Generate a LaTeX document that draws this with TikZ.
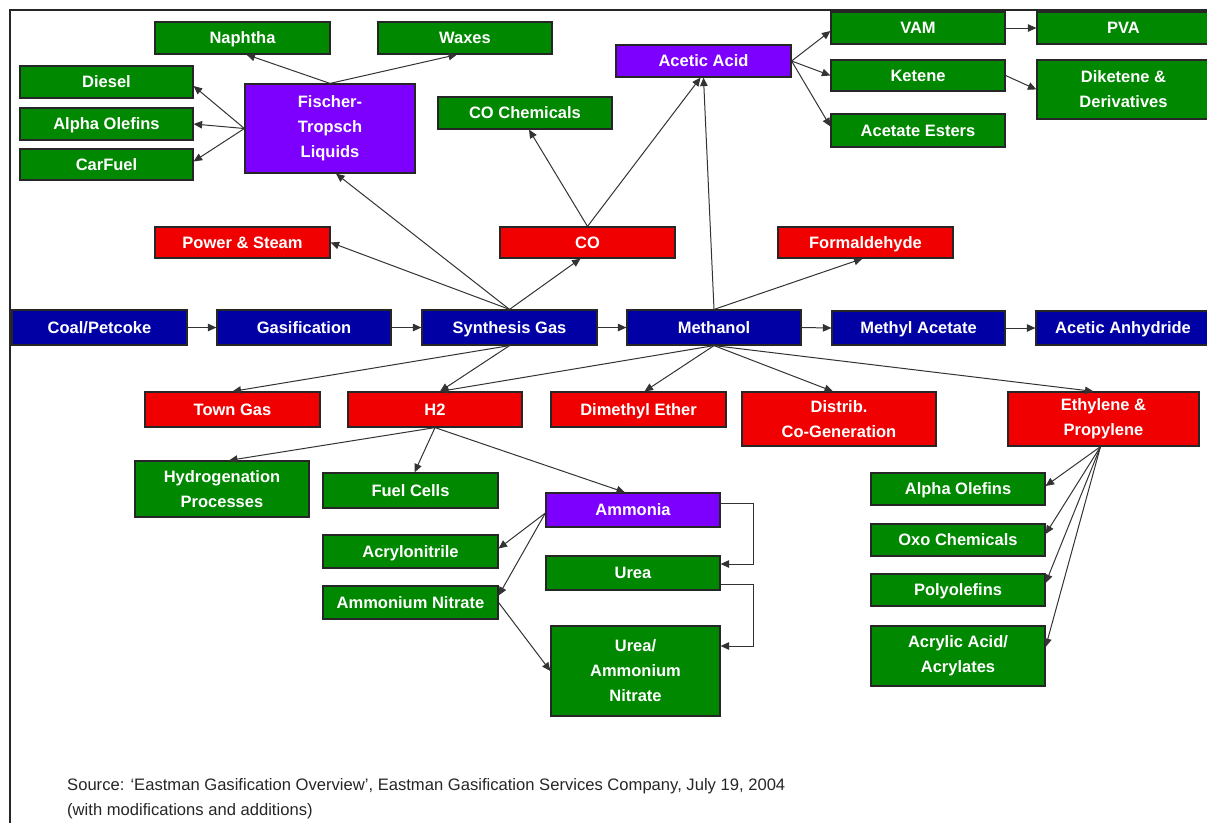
\documentclass[tikz,border=0pt]{standalone}
\usepackage{fontspec}
\setmainfont{Liberation Sans}
\usetikzlibrary{arrows.meta,calc}
\definecolor{cGreen}{RGB}{0,136,0}
\definecolor{cRed}{RGB}{240,0,0}
\definecolor{cBlue}{RGB}{0,0,165}
\definecolor{cPurple}{RGB}{125,0,255}
\tikzset{
  bx/.style={draw=black!85, line width=1.2pt, inner sep=0pt, text=white,
    font=\bfseries\fontsize{16.5}{25}\selectfont, align=center},
  oneline/.style={text height=12pt, text depth=0.3pt},
  gb/.style={bx, fill=cGreen},
  rb/.style={bx, fill=cRed},
  bb/.style={bx, fill=cBlue},
  pb/.style={bx, fill=cPurple},
  arr/.style={draw=black!80, line width=1pt, -{Triangle[length=8.5pt,width=7.5pt]}},
  frameline/.style={draw=black!85, line width=1.6pt},
  srctext/.style={anchor=north west, align=left, text=black!85,
    font=\fontsize{16.6}{25}\selectfont, inner sep=0pt}
}
% box from corner (x1,y1) to (x2,y2)
\newcommand\mybox[7]{%
  \pgfmathsetmacro\bxw{#5-#3}\pgfmathsetmacro\bxh{#6-#4}%
  \pgfmathsetmacro\bxcx{(#3+#5)/2}\pgfmathsetmacro\bxcy{(#4+#6)/2}%
  \node[#1, minimum width=\bxw pt, minimum height=\bxh pt] (#2) at (\bxcx,\bxcy) {#7};}
\begin{document}
\begin{tikzpicture}[x=1pt,y=-1pt]
\useasboundingbox (0,0) rectangle (1207,823);
\draw[frameline] (1207,10) -- (10,10) -- (10,823);
% top left
\mybox{gb,oneline}{naph}{155}{22}{330}{54}{Naphtha}
\mybox{gb,oneline}{wax}{378}{22}{552}{54}{Waxes}
\mybox{gb,oneline}{dies}{20}{66}{193}{98}{Diesel}
\mybox{gb,oneline}{ao1}{20}{108}{193}{140}{Alpha Olefins}
\mybox{gb,oneline}{car}{20}{149}{193}{180}{CarFuel}
\mybox{pb}{ft}{245}{84}{415}{173}{Fischer-\\Tropsch\\Liquids}
% top middle / right
\mybox{pb,oneline}{aa}{616}{45}{791}{77}{Acetic Acid}
\mybox{gb,oneline}{coc}{438}{97}{612}{129}{CO Chemicals}
\mybox{gb,oneline}{vam}{831}{12}{1005}{44}{VAM}
\mybox{gb,oneline}{pva}{1037}{12}{1210}{44}{PVA}
\mybox{gb,oneline}{ket}{831}{60}{1005}{91}{Ketene}
\mybox{gb}{dik}{1037}{60}{1210}{119}{Diketene \&\\Derivatives}
\mybox{gb,oneline}{ae}{831}{114}{1005}{147}{Acetate Esters}
% red row
\mybox{rb,oneline}{ps}{155}{227}{330}{258}{Power \& Steam}
\mybox{rb,oneline}{co}{500}{227}{675}{258}{CO}
\mybox{rb,oneline}{form}{778}{227}{953}{258}{Formaldehyde}
% blue chain
\mybox{bb,oneline}{coal}{12}{310}{187}{345}{Coal/Petcoke}
\mybox{bb,oneline}{gas}{217}{310}{391}{345}{Gasification}
\mybox{bb,oneline}{syn}{422}{310}{597}{345}{Synthesis Gas}
\mybox{bb,oneline}{meth}{627}{310}{801}{345}{Methanol}
\mybox{bb,oneline}{mac}{832}{311}{1005}{345}{Methyl Acetate}
\mybox{bb,oneline}{aan}{1036}{311}{1210}{345}{Acetic Anhydride}
% lower red row
\mybox{rb,oneline}{town}{145}{392}{320}{427}{Town Gas}
\mybox{rb,oneline}{h2}{348}{392}{522}{427}{H2}
\mybox{rb,oneline}{dme}{551}{392}{726}{427}{Dimethyl Ether}
\mybox{rb}{dist}{742}{392}{936}{446}{Distrib.\\Co-Generation}
\mybox{rb}{eth}{1008}{392}{1199}{446}{Ethylene \&\\Propylene}
% bottom
\mybox{gb}{hyd}{135}{461}{309}{517}{Hydrogenation\\Processes}
\mybox{gb,oneline}{fc}{323}{473}{498}{508}{Fuel Cells}
\mybox{pb,oneline}{amm}{546}{493}{720}{527}{Ammonia}
\mybox{gb,oneline}{acn}{323}{535}{498}{568}{Acrylonitrile}
\mybox{gb,oneline}{urea}{546}{556}{720}{590}{Urea}
\mybox{gb,oneline}{an}{323}{586}{498}{619}{Ammonium Nitrate}
\mybox{gb}{uan}{551}{626}{720}{716}{Urea/\\Ammonium\\Nitrate}
\mybox{gb,oneline}{ao2}{871}{473}{1045}{505}{Alpha Olefins}
\mybox{gb,oneline}{oxo}{871}{524}{1045}{556}{Oxo Chemicals}
\mybox{gb,oneline}{poly}{871}{574}{1045}{606}{Polyolefins}
\mybox{gb}{acr}{871}{626}{1045}{686}{Acrylic Acid/\\Acrylates}
% source
\node[srctext] (src) at (67,778) {Source: ‘Eastman Gasification Overview’, Eastman Gasification Services Company, July 19, 2004\\(with modifications and additions)};
% connectors: FT
\draw[arr] (ft.west) -- ($(dies.east)+(0,4)$);
\draw[arr] (ft.west) -- (ao1.east);
\draw[arr] (ft.west) -- ($(car.east)+(0,-3)$);
\draw[arr] (ft.north) -- ($(naph.south)+(4,0)$);
\draw[arr] (ft.north) -- ($(wax.south)+(-8,0)$);
% synthesis gas
\draw[arr] (syn.north) -- ($(ft.south)+(6,0)$);
\draw[arr] (syn.north) -- (ps.east);
\draw[arr] (syn.north) -- ($(co.south)+(-7,0)$);
\draw[arr] (syn.south) -- (town.north);
\draw[arr] (syn.south) -- ($(h2.north)+(5,0)$);
% CO
\draw[arr] (co.north) -- ($(coc.south)+(4,0)$);
\draw[arr] (co.north) -- ($(aa.south)+(-3,0)$);
% methanol
\draw[arr] (meth.north) -- (aa.south);
\draw[arr] (meth.north) -- ($(form.south)+(-3,0)$);
\draw[arr] (meth.south) -- ($(h2.north)+(5,0)$);
\draw[arr] (meth.south) -- ($(dme.north)+(6,0)$);
\draw[arr] (meth.south) -- ($(dist.north)+(-6,0)$);
\draw[arr] (meth.south) -- ($(eth.north)+(-10,0)$);
% acetic acid
\draw[arr] (aa.east) -- ($(vam.west)+(0,3)$);
\draw[arr] (aa.east) -- (ket.west);
\draw[arr] (aa.east) -- ($(ae.west)+(0,-4)$);
\draw[arr] (vam.east) -- (pva.west |- vam.east);
\draw[arr] (ket.east) -- (dik.west);
% chain
\draw[arr] (coal.east) -- (gas.west);
\draw[arr] (gas.east) -- (syn.west);
\draw[arr] (syn.east) -- (meth.west);
\draw[arr] (meth.east) -- (mac.west);
\draw[arr] (mac.east) -- (aan.west);
% ethylene
\draw[arr] ($(eth.south)+(-3,0)$) -- ($(ao2.east)+(0,-3)$);
\draw[arr] ($(eth.south)+(-3,0)$) -- ($(oxo.east)+(0,-6)$);
\draw[arr] ($(eth.south)+(-3,0)$) -- ($(poly.east)+(0,-7)$);
\draw[arr] ($(eth.south)+(-3,0)$) -- ($(acr.east)+(0,-9)$);
% H2
\draw[arr] (h2.south) -- ($(hyd.north)+(7,0)$);
\draw[arr] (h2.south) -- ($(fc.north)+(4,0)$);
\draw[arr] (h2.south) -- ($(amm.north)+(-8,0)$);
% ammonia
\draw[arr] ($(amm.west)+(0,3)$) -- ($(acn.east)+(0,-3)$);
\draw[arr] ($(amm.west)+(0,3)$) -- ($(an.east)+(0,-7)$);
\draw[arr] (an.east) -- (uan.west);
\draw[arr] ($(amm.east)+(0,-7)$) -- ++(33,0) |- ($(urea.east)+(0,-9)$);
\draw[arr] ($(urea.east)+(0,11)$) -- ++(33,0) |- ($(uan.east)+(0,-25)$);
\end{tikzpicture}
\end{document}
